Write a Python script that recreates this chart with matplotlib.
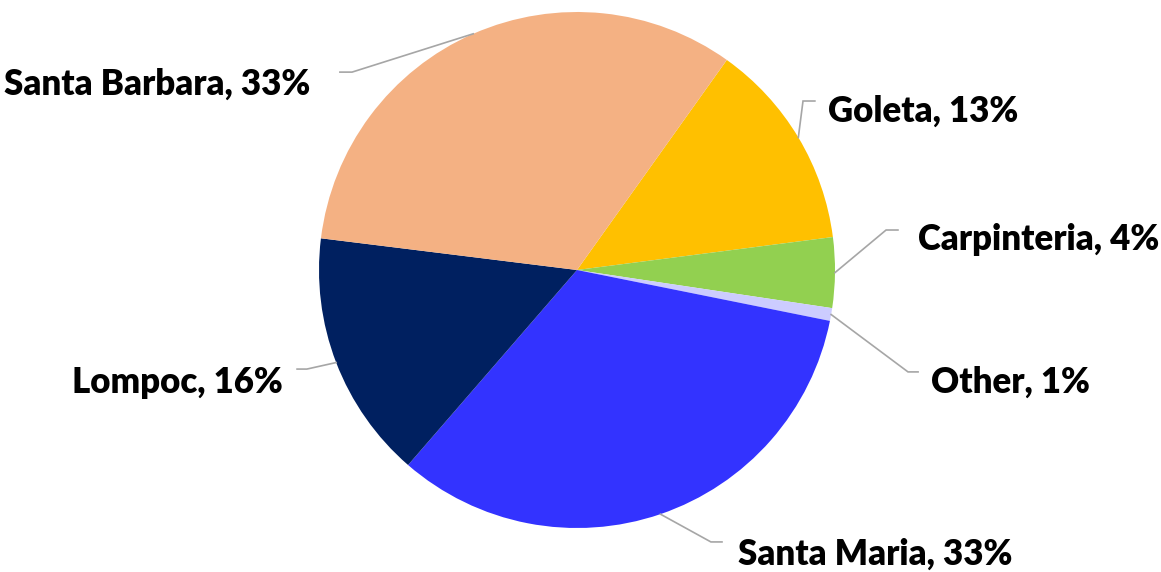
import matplotlib.pyplot as plt
import numpy as np

# data
labels = ["Goleta", "Carpinteria", "Other", "Santa Maria", "Lompoc", "Santa Barbara"]
shares = [13.1, 4.4, 0.8, 33.2, 15.6, 32.9]
colors = ["#FFC000", "#92D050", "#CCCCFF", "#3333FF", "#002060", "#F4B183"]

# label layout (data units, radius = 1): bend point, line end, text pos, align
bends = [(0.876, 0.655), (1.198, 0.155), (1.283, -0.395),
         (0.519, -1.054), (-1.047, -0.384), (-0.872, 0.767)]
ends = [(0.922, 0.655), (1.244, 0.155), (1.322, -0.395),
        (0.562, -1.054), (-1.085, -0.384), (-0.919, 0.767)]
text_pos = [(0.973, 0.574), (1.322, 0.078), (1.372, -0.477),
            (0.624, -1.143), (-1.140, -0.477), (-1.035, 0.678)]
aligns = ["left", "left", "left", "left", "right", "right"]

fig = plt.figure(figsize=(11.61, 5.72), dpi=100)
ax = fig.add_axes([0, 0, 1, 1])

wedges, _ = ax.pie(shares, colors=colors, startangle=54.5, counterclock=False,
                   radius=1, wedgeprops=dict(linewidth=0))

for w, lab, val, b, e, tp, ha in zip(wedges, labels, shares, bends, ends, text_pos, aligns):
    mid = np.deg2rad((w.theta1 + w.theta2) / 2)
    x0, y0 = np.cos(mid), np.sin(mid)
    ax.plot([x0, b[0], e[0]], [y0, b[1], e[1]], color="#A6A6A6", lw=1.2,
            solid_joinstyle="miter")
    ax.text(tp[0], tp[1], f"{lab}, {val:.0f}%", ha=ha, va="baseline",
            fontsize=25, fontweight="heavy", family="Lato", color="black")

ax.set_xlim(-577 / 258, (1161 - 577) / 258)
ax.set_ylim(-(572 - 270) / 258, 270 / 258)
ax.axis("off")

fig.savefig("out.png", dpi=100)
